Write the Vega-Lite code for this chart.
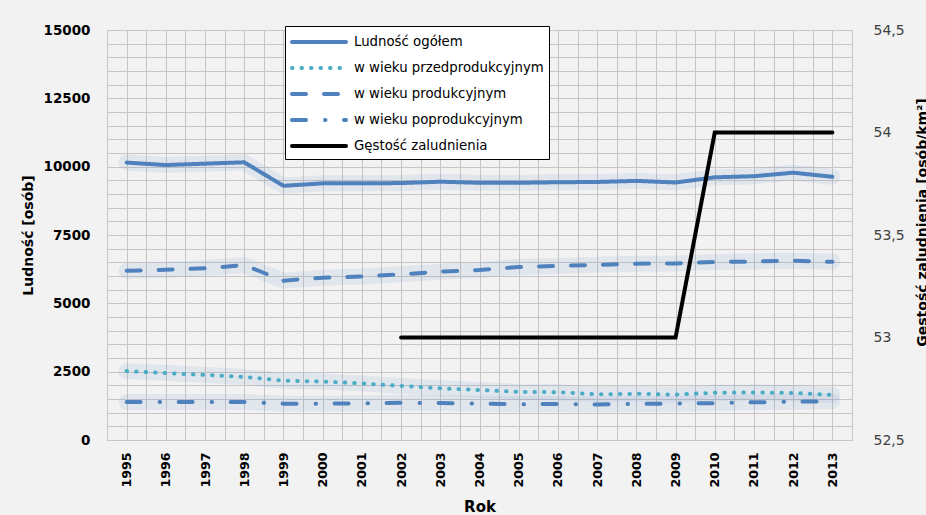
{
  "$schema": "https://vega.github.io/schema/vega-lite/v6.json",
  "width": 745,
  "height": 410,
  "autosize": {"type": "none"},
  "padding": {"left": 107, "top": 30, "right": 74, "bottom": 75},
  "background": "#f2f2f2",
  "config": {
    "font": "DejaVu Sans",
    "view": {"stroke": "#bfbfbf", "fill": "#f2f2f2"},
    "axis": {"domain": false, "ticks": false, "gridColor": "#c6c6c6", "gridWidth": 1, "labelOverlap": false, "labelFlush": false},
    "legend": {
      "orient": "none",
      "legendX": 178,
      "legendY": -4,
      "fillColor": "#ffffff",
      "strokeColor": "#000000",
      "padding": 5,
      "rowPadding": 7,
      "symbolType": "M-3,0H3",
      "symbolSize": 324,
      "symbolOffset": 18,
      "symbolStrokeWidth": 4,
      "labelOffset": 24,
      "labelFontSize": 13.3,
      "labelColor": "#000000",
      "labelLimit": 400
    }
  },
  "data": {
    "values": [
      {"rok": 1995, "seria": "Ludność ogółem", "wartosc": 10150},
      {"rok": 1996, "seria": "Ludność ogółem", "wartosc": 10060},
      {"rok": 1997, "seria": "Ludność ogółem", "wartosc": 10110},
      {"rok": 1998, "seria": "Ludność ogółem", "wartosc": 10160},
      {"rok": 1999, "seria": "Ludność ogółem", "wartosc": 9300},
      {"rok": 2000, "seria": "Ludność ogółem", "wartosc": 9390},
      {"rok": 2001, "seria": "Ludność ogółem", "wartosc": 9390},
      {"rok": 2002, "seria": "Ludność ogółem", "wartosc": 9400},
      {"rok": 2003, "seria": "Ludność ogółem", "wartosc": 9450},
      {"rok": 2004, "seria": "Ludność ogółem", "wartosc": 9410},
      {"rok": 2005, "seria": "Ludność ogółem", "wartosc": 9410},
      {"rok": 2006, "seria": "Ludność ogółem", "wartosc": 9430},
      {"rok": 2007, "seria": "Ludność ogółem", "wartosc": 9440},
      {"rok": 2008, "seria": "Ludność ogółem", "wartosc": 9480},
      {"rok": 2009, "seria": "Ludność ogółem", "wartosc": 9420},
      {"rok": 2010, "seria": "Ludność ogółem", "wartosc": 9610},
      {"rok": 2011, "seria": "Ludność ogółem", "wartosc": 9650},
      {"rok": 2012, "seria": "Ludność ogółem", "wartosc": 9780},
      {"rok": 2013, "seria": "Ludność ogółem", "wartosc": 9630},
      {"rok": 1995, "seria": "w wieku przedprodukcyjnym", "wartosc": 2520},
      {"rok": 1996, "seria": "w wieku przedprodukcyjnym", "wartosc": 2450},
      {"rok": 1997, "seria": "w wieku przedprodukcyjnym", "wartosc": 2380},
      {"rok": 1998, "seria": "w wieku przedprodukcyjnym", "wartosc": 2310},
      {"rok": 1999, "seria": "w wieku przedprodukcyjnym", "wartosc": 2170},
      {"rok": 2000, "seria": "w wieku przedprodukcyjnym", "wartosc": 2140},
      {"rok": 2001, "seria": "w wieku przedprodukcyjnym", "wartosc": 2070},
      {"rok": 2002, "seria": "w wieku przedprodukcyjnym", "wartosc": 1980},
      {"rok": 2003, "seria": "w wieku przedprodukcyjnym", "wartosc": 1890},
      {"rok": 2004, "seria": "w wieku przedprodukcyjnym", "wartosc": 1830},
      {"rok": 2005, "seria": "w wieku przedprodukcyjnym", "wartosc": 1760},
      {"rok": 2006, "seria": "w wieku przedprodukcyjnym", "wartosc": 1750},
      {"rok": 2007, "seria": "w wieku przedprodukcyjnym", "wartosc": 1670},
      {"rok": 2008, "seria": "w wieku przedprodukcyjnym", "wartosc": 1690},
      {"rok": 2009, "seria": "w wieku przedprodukcyjnym", "wartosc": 1660},
      {"rok": 2010, "seria": "w wieku przedprodukcyjnym", "wartosc": 1730},
      {"rok": 2011, "seria": "w wieku przedprodukcyjnym", "wartosc": 1740},
      {"rok": 2012, "seria": "w wieku przedprodukcyjnym", "wartosc": 1720},
      {"rok": 2013, "seria": "w wieku przedprodukcyjnym", "wartosc": 1650},
      {"rok": 1995, "seria": "w wieku produkcyjnym", "wartosc": 6190},
      {"rok": 1996, "seria": "w wieku produkcyjnym", "wartosc": 6230},
      {"rok": 1997, "seria": "w wieku produkcyjnym", "wartosc": 6280},
      {"rok": 1998, "seria": "w wieku produkcyjnym", "wartosc": 6400},
      {"rok": 1999, "seria": "w wieku produkcyjnym", "wartosc": 5830},
      {"rok": 2000, "seria": "w wieku produkcyjnym", "wartosc": 5940},
      {"rok": 2001, "seria": "w wieku produkcyjnym", "wartosc": 5980},
      {"rok": 2002, "seria": "w wieku produkcyjnym", "wartosc": 6060},
      {"rok": 2003, "seria": "w wieku produkcyjnym", "wartosc": 6160},
      {"rok": 2004, "seria": "w wieku produkcyjnym", "wartosc": 6220},
      {"rok": 2005, "seria": "w wieku produkcyjnym", "wartosc": 6330},
      {"rok": 2006, "seria": "w wieku produkcyjnym", "wartosc": 6370},
      {"rok": 2007, "seria": "w wieku produkcyjnym", "wartosc": 6410},
      {"rok": 2008, "seria": "w wieku produkcyjnym", "wartosc": 6450},
      {"rok": 2009, "seria": "w wieku produkcyjnym", "wartosc": 6460},
      {"rok": 2010, "seria": "w wieku produkcyjnym", "wartosc": 6510},
      {"rok": 2011, "seria": "w wieku produkcyjnym", "wartosc": 6530},
      {"rok": 2012, "seria": "w wieku produkcyjnym", "wartosc": 6560},
      {"rok": 2013, "seria": "w wieku produkcyjnym", "wartosc": 6520},
      {"rok": 1995, "seria": "w wieku poprodukcyjnym", "wartosc": 1390},
      {"rok": 1996, "seria": "w wieku poprodukcyjnym", "wartosc": 1390},
      {"rok": 1997, "seria": "w wieku poprodukcyjnym", "wartosc": 1390},
      {"rok": 1998, "seria": "w wieku poprodukcyjnym", "wartosc": 1390},
      {"rok": 1999, "seria": "w wieku poprodukcyjnym", "wartosc": 1330},
      {"rok": 2000, "seria": "w wieku poprodukcyjnym", "wartosc": 1330},
      {"rok": 2001, "seria": "w wieku poprodukcyjnym", "wartosc": 1340},
      {"rok": 2002, "seria": "w wieku poprodukcyjnym", "wartosc": 1360},
      {"rok": 2003, "seria": "w wieku poprodukcyjnym", "wartosc": 1350},
      {"rok": 2004, "seria": "w wieku poprodukcyjnym", "wartosc": 1330},
      {"rok": 2005, "seria": "w wieku poprodukcyjnym", "wartosc": 1310},
      {"rok": 2006, "seria": "w wieku poprodukcyjnym", "wartosc": 1320},
      {"rok": 2007, "seria": "w wieku poprodukcyjnym", "wartosc": 1300},
      {"rok": 2008, "seria": "w wieku poprodukcyjnym", "wartosc": 1320},
      {"rok": 2009, "seria": "w wieku poprodukcyjnym", "wartosc": 1330},
      {"rok": 2010, "seria": "w wieku poprodukcyjnym", "wartosc": 1350},
      {"rok": 2011, "seria": "w wieku poprodukcyjnym", "wartosc": 1380},
      {"rok": 2012, "seria": "w wieku poprodukcyjnym", "wartosc": 1400},
      {"rok": 2013, "seria": "w wieku poprodukcyjnym", "wartosc": 1420},
      {"rok": 2002, "seria": "Gęstość zaludnienia", "wartosc": 53},
      {"rok": 2003, "seria": "Gęstość zaludnienia", "wartosc": 53},
      {"rok": 2004, "seria": "Gęstość zaludnienia", "wartosc": 53},
      {"rok": 2005, "seria": "Gęstość zaludnienia", "wartosc": 53},
      {"rok": 2006, "seria": "Gęstość zaludnienia", "wartosc": 53},
      {"rok": 2007, "seria": "Gęstość zaludnienia", "wartosc": 53},
      {"rok": 2008, "seria": "Gęstość zaludnienia", "wartosc": 53},
      {"rok": 2009, "seria": "Gęstość zaludnienia", "wartosc": 53},
      {"rok": 2010, "seria": "Gęstość zaludnienia", "wartosc": 54},
      {"rok": 2011, "seria": "Gęstość zaludnienia", "wartosc": 54},
      {"rok": 2012, "seria": "Gęstość zaludnienia", "wartosc": 54},
      {"rok": 2013, "seria": "Gęstość zaludnienia", "wartosc": 54}
    ]
  },
  "encoding": {
    "x": {
      "field": "rok",
      "type": "quantitative",
      "scale": {"domain": [1994.5, 2013.5], "nice": false, "zero": false},
      "axis": {
        "values": [1994.5, 1995, 1995.5, 1996, 1996.5, 1997, 1997.5, 1998, 1998.5, 1999, 1999.5, 2000, 2000.5, 2001, 2001.5, 2002, 2002.5, 2003, 2003.5, 2004, 2004.5, 2005, 2005.5, 2006, 2006.5, 2007, 2007.5, 2008, 2008.5, 2009, 2009.5, 2010, 2010.5, 2011, 2011.5, 2012, 2012.5, 2013, 2013.5],
        "labelExpr": "datum.value % 1 === 0 ? format(datum.value, 'd') : ''",
        "labelAngle": 270,
        "labelFontWeight": "bold",
        "labelFontSize": 12.6,
        "labelColor": "#000000",
        "labelPadding": 12,
        "grid": true,
        "title": "Rok",
        "titleFontSize": 15,
        "titleFontWeight": "bold",
        "titleColor": "#000000",
        "titlePadding": 12
      }
    },
    "color": {
      "field": "seria", "type": "nominal", "title": null,
      "scale": {"domain": ["Ludność ogółem", "w wieku przedprodukcyjnym", "w wieku produkcyjnym", "w wieku poprodukcyjnym", "Gęstość zaludnienia"], "range": ["#4f81bd", "#4bacc6", "#4f81bd", "#4f81bd", "#000000"]},
      "legend": {"encode": {"symbols": {"update": {"strokeCap": {"value": "round"}}}}}
    },
    "strokeDash": {
      "field": "seria", "type": "nominal", "title": null,
      "scale": {"domain": ["Ludność ogółem", "w wieku przedprodukcyjnym", "w wieku produkcyjnym", "w wieku poprodukcyjnym", "Gęstość zaludnienia"], "range": [[1, 0], [0.5, 9], [14, 18], [14, 19, 0.5, 18.5], [1, 0]]},
      "legend": {"encode": {"symbols": {"update": {"strokeCap": {"value": "round"}}}}}
    }
  },
  "layer": [
    {
      "transform": [{"filter": "datum.seria !== 'Gęstość zaludnienia'"}],
      "encoding": {
        "y": {
          "field": "wartosc",
          "type": "quantitative",
          "scale": {"domain": [0, 15000], "nice": false},
          "axis": {
            "values": [0, 500, 1000, 1500, 2000, 2500, 3000, 3500, 4000, 4500, 5000, 5500, 6000, 6500, 7000, 7500, 8000, 8500, 9000, 9500, 10000, 10500, 11000, 11500, 12000, 12500, 13000, 13500, 14000, 14500, 15000],
            "labelExpr": "datum.value % 2500 === 0 ? format(datum.value, 'd') : ''",
            "labelFontWeight": "bold",
            "labelFontSize": 13.5,
            "labelColor": "#000000",
            "labelPadding": 17,
            "grid": true,
            "title": "Ludność [osób]",
            "titleFontSize": 14,
            "titleFontWeight": "bold",
            "titleColor": "#000000",
            "titlePadding": 8
          }
        }
      },
      "layer": [
        {
          "mark": {"type": "line", "stroke": "#4f81bd", "opacity": 0.1, "strokeWidth": 16, "strokeCap": "round", "strokeJoin": "round"},
          "encoding": {"color": null, "strokeDash": null, "detail": {"field": "seria", "type": "nominal"}}
        },
        {
          "mark": {"type": "line", "strokeWidth": 4, "strokeCap": "round", "strokeJoin": "round"},
          "encoding": {}
        }
      ]
    },
    {
      "transform": [{"filter": "datum.seria === 'Gęstość zaludnienia'"}],
      "mark": {"type": "line", "strokeWidth": 4, "strokeCap": "round", "strokeJoin": "miter"},
      "encoding": {
        "y": {
          "field": "wartosc",
          "type": "quantitative",
          "scale": {"domain": [52.5, 54.5], "nice": false, "zero": false},
          "axis": {
            "orient": "right",
            "values": [52.5, 53, 53.5, 54, 54.5],
            "labelExpr": "replace(format(datum.value, '~g'), '.', ',')",
            "labelFontSize": 14,
            "labelColor": "#404040",
            "labelPadding": 21,
            "grid": false,
            "title": "Gęstość zaludnienia [osób/km²]",
            "titleAngle": 270,
            "titleBaseline": "top",
            "titleFontSize": 14,
            "titleFontWeight": "bold",
            "titleColor": "#000000",
            "titlePadding": 11,
            "titleY": 192
          }
        }
      }
    }
  ],
  "resolve": {"scale": {"y": "independent"}}
}
